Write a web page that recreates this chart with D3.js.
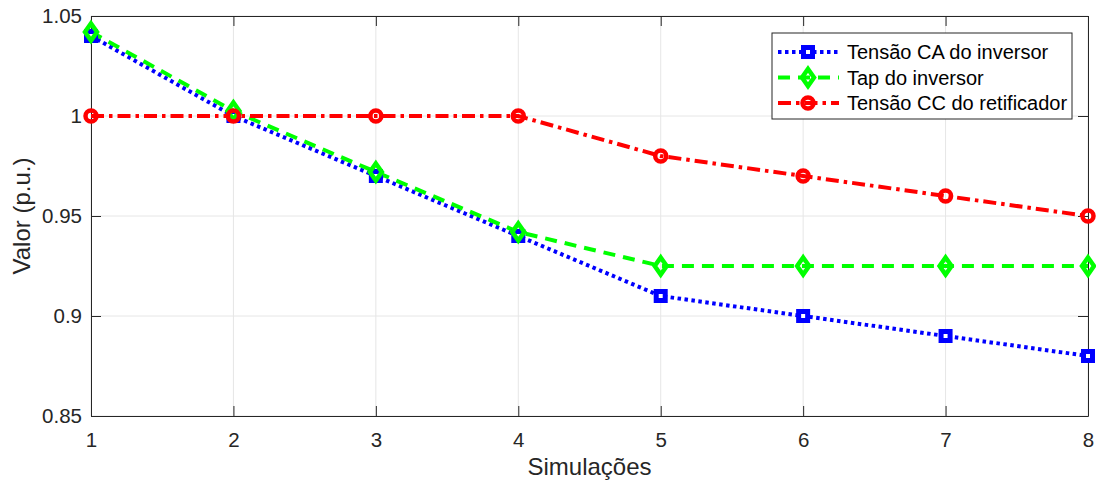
<!DOCTYPE html>
<html><head><meta charset="utf-8">
<script src="https://cdn.jsdelivr.net/npm/d3@7"></script>
<style>body{margin:0;background:#fff}svg{display:block}text{font-family:"Liberation Sans",Arial,sans-serif}</style>
</head><body><svg id="c" width="1096" height="484"></svg>
<script>
const simulations = [1,2,3,4,5,6,7,8];
const tensaoCA = [1.04,1.00,0.97,0.94,0.91,0.90,0.89,0.88];
const tapInversor = [1.042,1.0025,0.972,0.942,0.925,0.925,0.925,0.925];
const tensaoCC = [1.00,1.00,1.00,1.00,0.98,0.97,0.96,0.95];
const yTicks = [0.85,0.9,0.95,1,1.05];
const yTickLabels = ["0.85","0.9","0.95","1","1.05"];
const seriesNames = ["Tensão CA do inversor","Tap do inversor","Tensão CC do retificador"];

const svg = d3.select("#c");
const L=91,R=1088,T=16,B=416;
const x = d3.scaleLinear().domain([1,8]).range([L,R]);
const y = d3.scaleLinear().domain([0.85,1.05]).range([B,T]);

const g = svg.append("g");
g.selectAll(".gx").data(simulations).enter().append("line")
 .attr("x1",d=>x(d)).attr("x2",d=>x(d)).attr("y1",T).attr("y2",B)
 .attr("stroke","#e6e6e6").attr("stroke-width",1);
g.selectAll(".gy").data(yTicks).enter().append("line")
 .attr("x1",L).attr("x2",R).attr("y1",d=>y(d)).attr("y2",d=>y(d))
 .attr("stroke","#e6e6e6").attr("stroke-width",1);

const ax = svg.append("g").attr("transform",`translate(0,${B})`)
 .call(d3.axisBottom(x).tickValues(simulations).tickFormat(d3.format("d")).tickSizeInner(-10).tickSizeOuter(0).tickPadding(16));
const axT = svg.append("g").attr("transform",`translate(0,${T})`)
 .call(d3.axisTop(x).tickValues(simulations).tickFormat("").tickSizeInner(-10).tickSizeOuter(0));
const ay = svg.append("g").attr("transform",`translate(${L},0)`)
 .call(d3.axisLeft(y).tickValues(yTicks).tickFormat((d,i)=>yTickLabels[i]).tickSizeInner(-10).tickSizeOuter(0).tickPadding(9));
const ayR = svg.append("g").attr("transform",`translate(${R},0)`)
 .call(d3.axisRight(y).tickValues(yTicks).tickFormat("").tickSizeInner(-10).tickSizeOuter(0));
[ax,axT,ay,ayR].forEach(a=>{
 a.select(".domain").attr("stroke","#262626").attr("stroke-width",1);
 a.selectAll(".tick line").attr("stroke","#262626");
 a.selectAll("text").attr("fill","#262626").attr("font-size",20.5);
});

svg.append("text").attr("x",(L+R)/2).attr("y",475).attr("text-anchor","middle")
 .attr("font-size",24).attr("fill","#262626").text("Simulações");
svg.append("text").attr("transform",`translate(30,${(T+B)/2}) rotate(-90)`).attr("text-anchor","middle")
 .attr("font-size",24).attr("fill","#262626").text("Valor (p.u.)");

const styles = [
 {data:tensaoCA,color:"#0000ff",dash:"3.5,3.5",marker:"square"},
 {data:tapInversor,color:"#00ff00",dash:"12,8",marker:"diamond"},
 {data:tensaoCC,color:"#ff0000",dash:"13,5,3.5,5",marker:"circle"}
];
const line = d3.line().x((d,i)=>x(simulations[i])).y(d=>y(d));
function drawMarker(sel,type,color,cx,cy){
 if(type==="square") sel.append("rect").attr("x",cx-4.5).attr("y",cy-4.5).attr("width",9).attr("height",9)
   .attr("fill","#fff").attr("stroke",color).attr("stroke-width",5);
 else if(type==="diamond") sel.append("path").attr("d",`M${cx},${cy-8.5}L${cx+6},${cy}L${cx},${cy+8.5}L${cx-6},${cy}Z`)
   .attr("fill","none").attr("stroke",color).attr("stroke-width",4.5).attr("stroke-linejoin","miter");
 else sel.append("circle").attr("cx",cx).attr("cy",cy).attr("r",5.5)
   .attr("fill","none").attr("stroke",color).attr("stroke-width",4.5);
}
const plot = svg.append("g");
styles.forEach(s=>{
 plot.append("path").attr("d",line(s.data)).attr("fill","none").attr("stroke",s.color)
  .attr("stroke-width",4).attr("stroke-dasharray",s.dash);
});
styles.forEach(s=>{
 s.data.forEach((v,i)=>drawMarker(plot,s.marker,s.color,x(simulations[i]),y(v)));
});

const lg = svg.append("g");
lg.append("rect").attr("x",772).attr("y",33).attr("width",300).attr("height",86)
 .attr("fill","#fff").attr("stroke","#262626").attr("stroke-width",1);
styles.forEach((s,i)=>{
 const yy = 52 + i*25.5;
 lg.append("line").attr("x1",778).attr("x2",839).attr("y1",yy).attr("y2",yy)
  .attr("stroke",s.color).attr("stroke-width",4).attr("stroke-dasharray",s.dash);
 drawMarker(lg,s.marker,s.color,808,yy);
 lg.append("text").attr("x",847).attr("y",yy+7).attr("font-size",20).attr("fill","#000").text(seriesNames[i]);
});
</script></body></html>
